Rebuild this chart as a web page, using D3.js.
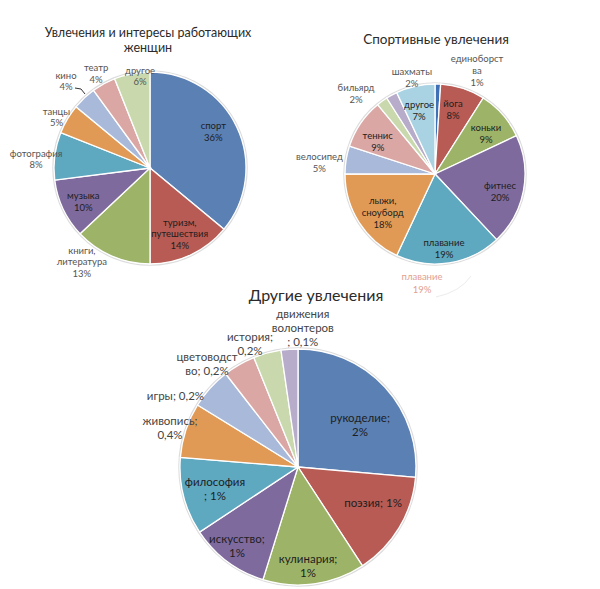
<!DOCTYPE html>
<html>
<head>
<meta charset="utf-8">
<script src="https://cdn.jsdelivr.net/npm/d3@7"></script>
<style>
  body { margin: 0; background: #fff; }
  svg { display: block; font-family: Lato, "Open Sans", sans-serif; }
</style>
</head>
<body>
<svg id="chart" width="600" height="589"></svg>
<script>
// chart 1 - hobbies of working women
const hobbyCats = ['спорт', 'туризм,\nпутешествия', 'книги,\nлитература', 'музыка', 'фотография',
  'танцы', 'кино', 'театр', 'другое'];
const hobbyVals = [36, 14, 13, 10, 8, 5, 4, 4, 6];

// chart 2 - sports
const sportCats = ['единоборст\nва', 'йога', 'коньки', 'фитнес', 'плавание', 'лыжи,\nсноуборд',
  'велосипед', 'теннис', 'бильярд', 'шахматы', 'другое'];
const sportVals = [1, 8, 9, 20, 19, 18, 5, 9, 2, 2, 7];

// chart 3 - other hobbies (slice share, labels as printed)
const otherCats = ['рукоделие;\n2%', 'поэзия; 1%', 'кулинария;\n1%', 'искусство;\n1%', 'философия\n; 1%',
  'живопись;\n0,4%', 'игры; 0,2%', 'цветоводст\nво; 0,2%', 'история;\n0,2%', 'движения\nволонтеров\n; 0,1%'];
const otherShare = [26.4, 14.4, 14.0, 10.9, 10.6, 7.5, 5.7, 4.4, 3.8, 2.3];

const palette = ['#5b80b3', '#b75b54', '#9db468', '#7f6a9e', '#5ea8c0', '#e09a55',
  '#a9b9da', '#daa7a5', '#c9d9ad', '#b8accb', '#a9d2e2'];
const sportColors = ['#3f6fb5', '#b75b54', '#9db468', '#7f6a9e', '#5ea8c0', '#e09a55',
  '#a9b9da', '#daa7a5', '#c9d9ad', '#b8accb', '#a9d2e2'];

const svg = d3.select('#chart');

function drawPie(opt) {
  const g = svg.append('g').attr('transform', `translate(${opt.cx},${opt.cy})`);
  const pie = d3.pie().sort(null).value(d => d.v);
  const arcs = pie(opt.data);
  const arc = d3.arc().innerRadius(0).outerRadius(opt.r);

  g.append('circle').attr('r', opt.r + 1).attr('fill', 'none')
    .attr('stroke', '#dcdcdc').attr('stroke-width', 1.5);

  g.selectAll('path.slice').data(arcs).enter().append('path')
    .attr('class', 'slice')
    .attr('d', arc)
    .attr('fill', (d, i) => opt.colors[i])
    .attr('stroke', '#fff')
    .attr('stroke-width', 1.3);

  // labels: angle = slice middle + tweak, radius = factor of r
  arcs.forEach((d, i) => {
    const a = (d.startAngle + d.endAngle) / 2 + opt.dA[i] * Math.PI / 180;
    const rr = opt.k[i] * opt.r;
    const x = Math.sin(a) * rr, y = -Math.cos(a) * rr;
    const lines = d.data.label;
    const outside = opt.k[i] > 0.95;
    const t = g.append('text')
      .attr('text-anchor', 'middle')
      .attr('font-size', opt.fs)
      .attr('fill', outside ? opt.outColor : opt.inColor);
    lines.forEach((s, j) => {
      t.append('tspan')
        .attr('x', x)
        .attr('y', y + (j - (lines.length - 1) / 2) * opt.lh + opt.fs * 0.35)
        .text(s);
    });
  });

  svg.append('g').selectAll('text').data(opt.title).enter().append('text')
    .attr('x', opt.tx)
    .attr('y', (d, i) => opt.ty + i * opt.tfs * 1.2)
    .attr('text-anchor', 'middle')
    .attr('font-size', opt.tfs)
    .attr('fill', '#2b2b2b')
    .text(d => d);
  return g;
}

const g1 = drawPie({
  cx: 150, cy: 168, r: 96,
  data: hobbyCats.map((c, i) => ({ v: hobbyVals[i], label: c.split('\n').concat(hobbyVals[i] + '%') })),
  colors: palette,
  k:  [0.76, 0.755, 1.21, 0.78, 1.19, 1.11, 1.26, 1.13, 0.96],
  dA: [-4.5, 1, 12.5, -1.7, -2.7, -2, -0.8, -1, 4.6],
  fs: 9.5, lh: 11.5, inColor: '#1e1e1e', outColor: '#555',
  title: ['Увлечения и интересы работающих', 'женщин'], tx: 148, ty: 37, tfs: 12.5
});
// leader line for "кино"
g1.append('path')
  .attr('d', d3.line()([[-75, -80], [-69, -79], [-65, -74]]))
  .attr('fill', 'none').attr('stroke', '#333').attr('stroke-width', 1);

drawPie({
  cx: 435, cy: 174, r: 90,
  data: sportCats.map((c, i) => ({ v: sportVals[i], label: c.split('\n').concat(sportVals[i] + '%') })),
  colors: sportColors,
  k:  [1.235, 0.74, 0.72, 0.75, 0.84, 0.72, 1.29, 0.73, 1.25, 1.10, 0.73],
  dA: [20.4, -2.3, 3.3, 4.7, 2.2, -3.8, -3.6, -4.9, -8.6, 15.3, -1.4],
  fs: 9.5, lh: 12, inColor: '#1e1e1e', outColor: '#555',
  title: ['Спортивные увлечения'], tx: 436, ty: 44, tfs: 13.5
});

// faded leftover label below the sports pie
const ghost = svg.append('g').attr('fill', '#e3a08f').attr('font-size', 9.5).attr('text-anchor', 'middle');
ghost.append('text').attr('x', 422).attr('y', 280).text('плавание');
ghost.append('text').attr('x', 422).attr('y', 293).text('19%');
const gp = d3.path();
gp.moveTo(436, 297);
gp.quadraticCurveTo(460, 292, 471, 276);
svg.append('path').attr('d', gp.toString()).attr('fill', 'none')
  .attr('stroke', '#ececec').attr('stroke-width', 1);

drawPie({
  cx: 298, cy: 467, r: 118,
  data: otherCats.map((c, i) => ({ v: otherShare[i], label: c.split('\n') })),
  colors: palette,
  k:  [0.635, 0.705, 0.84, 0.846, 0.728, 1.134, 1.2, 1.165, 1.12, 1.18],
  dA: [8.4, -5.4, 2.1, 0.8, -0.4, -1.3, -11.9, -11.6, -6.2, 6.1],
  fs: 11.5, lh: 14, inColor: '#1e1e1e', outColor: '#444',
  title: ['Другие увлечения'], tx: 316, ty: 301, tfs: 16
});
</script>
</body>
</html>
